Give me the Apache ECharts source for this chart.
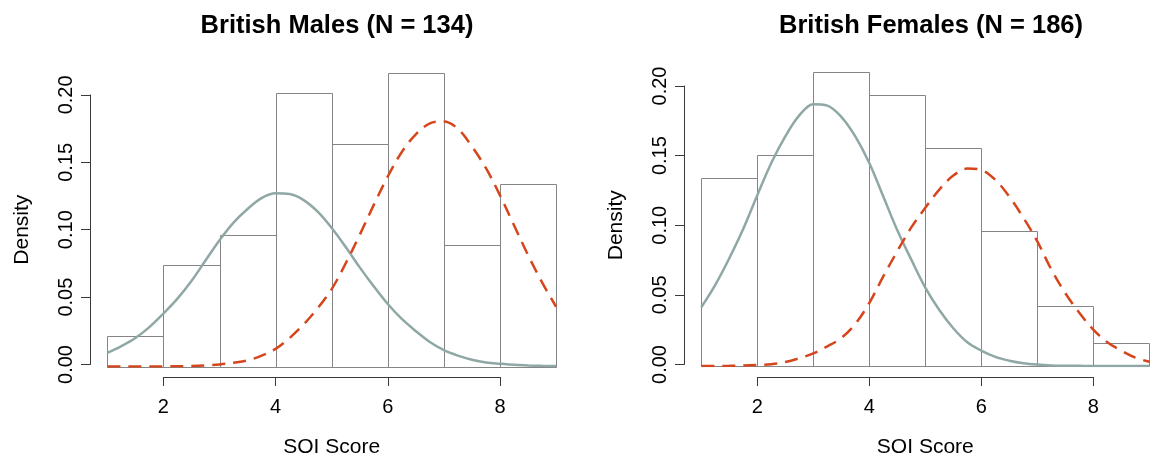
<!DOCTYPE html>
<html>
<head>
<meta charset="utf-8">
<script src="https://cdn.jsdelivr.net/npm/echarts@6/dist/echarts.min.js"></script>
<style>
  html, body { margin: 0; padding: 0; background: #ffffff; }
  #chart { width: 1155px; height: 463px; }
</style>
</head>
<body>
<div id="chart"></div>
<script>
// Histogram bins (SOI score, width 1) and counts per bin
const binEdges = [1, 2, 3, 4, 5, 6, 7, 8, 9];
const maleN = 134;
const maleCounts = [3, 10, 13, 27, 22, 29, 12, 18];
const femaleN = 186;
const femaleCounts = [25, 28, 39, 36, 29, 18, 8, 3];

// Overlaid density curves, sampled along the SOI score
const curveX = [1, 1.25, 1.5, 1.75, 2, 2.25, 2.5, 2.75, 3, 3.25, 3.5, 3.75, 4, 4.25, 4.5, 4.75,
  5, 5.25, 5.5, 5.75, 6, 6.25, 6.5, 6.75, 7, 7.25, 7.5, 7.75, 8, 8.25, 8.5, 8.75, 9];
const maleGrey = [0.010, 0.015, 0.021, 0.029, 0.039, 0.050, 0.063, 0.078, 0.093, 0.106, 0.116, 0.124,
  0.1275, 0.127, 0.1225, 0.114, 0.102, 0.088, 0.073, 0.059, 0.046, 0.035, 0.026, 0.018, 0.012, 0.008,
  0.005, 0.003, 0.002, 0.0012, 0.0008, 0.0005, 0.0003];
const maleRed = [0, 0, 0, 0, 0.0001, 0.0002, 0.0003, 0.0007, 0.0015, 0.0028, 0.0045, 0.008, 0.013,
  0.021, 0.031, 0.043, 0.057, 0.076, 0.097, 0.119, 0.140, 0.158, 0.171, 0.179, 0.1805, 0.175, 0.162,
  0.146, 0.126, 0.104, 0.082, 0.062, 0.044];
const femaleGrey = [0.042, 0.058, 0.077, 0.098, 0.122, 0.145, 0.164, 0.179, 0.187, 0.186, 0.178, 0.164,
  0.145, 0.121, 0.097, 0.076, 0.056, 0.040, 0.027, 0.017, 0.011, 0.0065, 0.0038, 0.002, 0.001, 0.0004,
  0.0002, 0.0001, 0, 0, 0, 0, 0];
const femaleRed = [0, 0, 0.0001, 0.0003, 0.0007, 0.0013, 0.0028, 0.0055, 0.009, 0.014, 0.020, 0.030,
  0.045, 0.064, 0.082, 0.099, 0.113, 0.126, 0.136, 0.141, 0.140, 0.133, 0.121, 0.106, 0.089, 0.069,
  0.052, 0.038, 0.026, 0.017, 0.011, 0.006, 0.003];

// Tick labels
const xTicks = [2, 4, 6, 8];
const yTicks = [0, 0.05, 0.10, 0.15, 0.20];

const titles = ['British Males (N = 134)', 'British Females (N = 186)'];

const FONT = 'Liberation Sans, Arial, sans-serif';
const GREY = '#8fa8a6';
const RED = '#d6461c';
const BAR_EDGE = '#858585';
const AXIS = '#3a3a3a';

function histData(counts, n) {
  return counts.map((c, i) => [binEdges[i], binEdges[i + 1], c / n]);
}
function pairs(xs, ys) {
  return xs.map((x, i) => [x, ys[i]]);
}

// Panel geometry: data grid spans x 1..9, y 0..0.22; axis grid spans ticks only (R style)
const panels = [
  { left: 107.3, xUnit: 56.1, base: 366.5, yUnit: 1358, axisX: 90, titleX: 332 },
  { left: 701.3, xUnit: 56.0, base: 366.0, yUnit: 1400, axisX: 684, titleX: 926 }
];
const Y_DATA_MAX = 0.22;

const grids = [], xAxes = [], yAxes = [], series = [], titleOpts = [];

panels.forEach((p, k) => {
  // data grid
  grids.push({
    left: p.left, width: 8 * p.xUnit,
    top: p.base - Y_DATA_MAX * p.yUnit, height: Y_DATA_MAX * p.yUnit
  });
  // axis grid (2..8 by 0..0.20)
  const axLeft = p.left + p.xUnit;
  grids.push({
    left: axLeft, width: 6 * p.xUnit,
    top: p.base - 0.20 * p.yUnit, height: 0.20 * p.yUnit
  });

  xAxes.push({ type: 'value', gridIndex: 2 * k, min: 1, max: 9, show: false });
  yAxes.push({ type: 'value', gridIndex: 2 * k, min: 0, max: Y_DATA_MAX, show: false });

  xAxes.push({
    type: 'value', gridIndex: 2 * k + 1, min: xTicks[0], max: xTicks[xTicks.length - 1], interval: 2,
    offset: 12.5,
    name: 'SOI Score', nameLocation: 'middle', nameGap: 60,
    nameTextStyle: { fontFamily: FONT, fontSize: 21, color: '#000' },
    axisLine: { show: true, onZero: false, lineStyle: { color: AXIS, width: 1 } },
    axisTick: { show: true, length: 9, lineStyle: { color: AXIS, width: 1 } },
    axisLabel: { fontFamily: FONT, fontSize: 20, color: '#000', margin: 20,
      formatter: v => String(v) },
    splitLine: { show: false }
  });
  yAxes.push({
    type: 'value', gridIndex: 2 * k + 1, min: yTicks[0], max: yTicks[yTicks.length - 1], interval: 0.05,
    offset: axLeft - p.axisX,
    name: 'Density', nameLocation: 'middle', nameGap: 57, nameRotate: 90,
    nameTextStyle: { fontFamily: FONT, fontSize: 21, color: '#000' },
    axisLine: { show: true, onZero: false, lineStyle: { color: AXIS, width: 1 } },
    axisTick: { show: true, length: 9, lineStyle: { color: AXIS, width: 1 } },
    axisLabel: { fontFamily: FONT, fontSize: 20, color: '#000', rotate: 90, margin: 14,
      formatter: v => v.toFixed(2) },
    splitLine: { show: false }
  });

  const counts = k === 0 ? maleCounts : femaleCounts;
  const n = k === 0 ? maleN : femaleN;
  series.push({
    type: 'custom', xAxisIndex: 2 * k, yAxisIndex: 2 * k,
    data: histData(counts, n), z: 1,
    renderItem: (params, api) => {
      const tl = api.coord([api.value(0), api.value(2)]);
      const br = api.coord([api.value(1), 0]);
      return {
        type: 'rect',
        shape: { x: Math.round(tl[0]) + 0.5, y: Math.round(tl[1]) + 0.5,
          width: Math.round(br[0]) - Math.round(tl[0]), height: Math.round(br[1]) - Math.round(tl[1]) },
        style: { fill: 'rgba(0,0,0,0)', stroke: BAR_EDGE, lineWidth: 1 }
      };
    }
  });
  series.push({
    type: 'line', xAxisIndex: 2 * k, yAxisIndex: 2 * k, z: 3,
    data: pairs(curveX, k === 0 ? maleGrey : femaleGrey),
    smooth: 0.35, showSymbol: false, symbol: 'none',
    lineStyle: { color: GREY, width: 2.5 }
  });
  series.push({
    type: 'line', xAxisIndex: 2 * k, yAxisIndex: 2 * k, z: 4,
    data: pairs(curveX, k === 0 ? maleRed : femaleRed),
    smooth: 0.35, showSymbol: false, symbol: 'none',
    lineStyle: { color: RED, width: 2.5, type: [13, 8] }
  });

  titleOpts.push({
    text: titles[k], left: p.titleX, top: 8, textAlign: 'center',
    textStyle: { fontFamily: FONT, fontSize: 25.5, fontWeight: 'bold', color: '#000' }
  });
});

const chart = echarts.init(document.getElementById('chart'), null, { renderer: 'canvas' });
chart.setOption({
  backgroundColor: '#ffffff',
  animation: false,
  title: titleOpts,
  grid: grids,
  xAxis: xAxes,
  yAxis: yAxes,
  series: series
});
</script>
</body>
</html>
